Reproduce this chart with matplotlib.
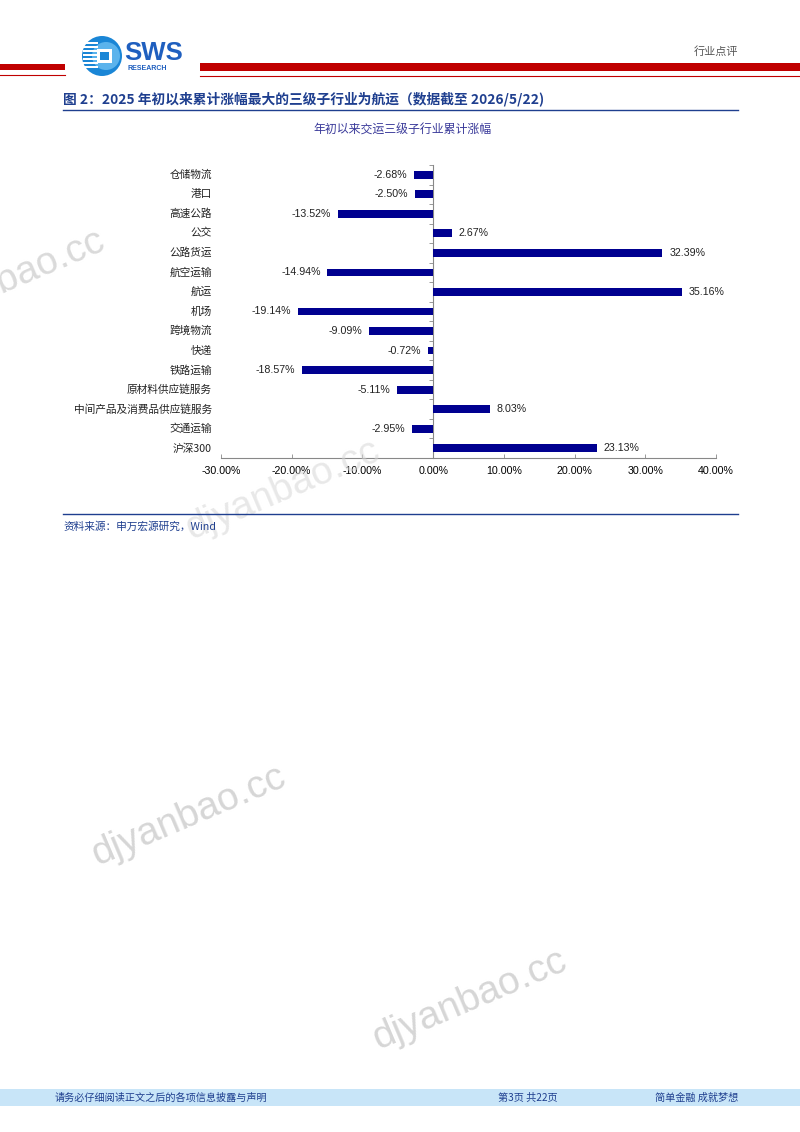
import matplotlib
matplotlib.use("Agg")
import matplotlib.pyplot as plt
from matplotlib.patches import Rectangle, Ellipse
from matplotlib.lines import Line2D
from matplotlib.transforms import blended_transform_factory

plt.rcParams['font.family'] = ['Noto Sans CJK SC', 'DejaVu Sans']

categories = ["仓储物流", "港口", "高速公路", "公交", "公路货运", "航空运输", "航运",
              "机场", "跨境物流", "快递", "铁路运输", "原材料供应链服务",
              "中间产品及消费品供应链服务", "交通运输", "沪深300"]
values = [-2.68, -2.50, -13.52, 2.67, 32.39, -14.94, 35.16,
          -19.14, -9.09, -0.72, -18.57, -5.11, 8.03, -2.95, 23.13]
xticks = [-30, -20, -10, 0, 10, 20, 30, 40]

W, H = 800, 1132
fig = plt.figure(figsize=(W / 100, H / 100), dpi=100)


def P(x, y):
    return (x / W, 1 - y / H)


NAVY = '#1f3f8f'
BAR = '#000090'
RED = '#c00000'

# ---------- watermarks ----------
for (cx, cy, a) in [(8, 280, 0.9), (283, 490, 0.55), (189, 816, 1.0), (470, 1000, 1.0)]:
    fig.text(*P(cx, cy), "djyanbao.cc", fontsize=28, rotation=23, color='#d6d6d6',
             alpha=a, ha='center', va='center', family=['Liberation Sans'], zorder=0)

# ---------- header ----------
fig.add_artist(Rectangle(P(0, 70), 65 / W, 6 / H, transform=fig.transFigure, color=RED, lw=0))
fig.add_artist(Rectangle(P(200, 71), 600 / W, 8 / H, transform=fig.transFigure, color=RED, lw=0))
fig.add_artist(Line2D([0, 65 / W], [1 - 75 / H] * 2, transform=fig.transFigure, color=RED, lw=0.8))
fig.add_artist(Line2D([200 / W, 1], [1 - 76 / H] * 2, transform=fig.transFigure, color=RED, lw=0.8))

# logo
cx, cy, r = 102, 56, 20
fig.add_artist(Ellipse(P(cx, cy), 2 * r / W, 2 * r / H, transform=fig.transFigure,
                       color='#1a86d6', lw=0))
fig.add_artist(Ellipse(P(cx + 4, cy), 28 / W, 28 / H, transform=fig.transFigure,
                       color='#5bb3ec', lw=0))
for k in range(7):
    yy = 43 + k * 4
    fig.add_artist(Rectangle(P(83, yy + 1), 15 / W, 1.6 / H, transform=fig.transFigure,
                             color='white', lw=0))
fig.add_artist(Rectangle(P(97, 63), 15 / W, 14 / H, transform=fig.transFigure, color='white', lw=0))
fig.add_artist(Rectangle(P(100, 60), 9 / W, 8 / H, transform=fig.transFigure, color='#1a86d6', lw=0))
fig.text(*P(124, 60), "SWS", fontsize=18.5, fontweight='bold', color='#1f5fbf',
         family=['Liberation Sans'], ha='left', va='baseline')
fig.text(*P(127, 70), "RESEARCH", fontsize=5, fontweight='bold', color='#1f5fbf',
         family=['Liberation Sans'], ha='left', va='baseline')
fig.text(*P(738, 52), "行业点评", fontsize=8, color='#555555', ha='right', va='center')

# ---------- figure title ----------
fig.text(*P(63, 99), "图 2：2025 年初以来累计涨幅最大的三级子行业为航运（数据截至 2026/5/22)",
         fontsize=9.9, fontweight='bold', color=NAVY, ha='left', va='center')
fig.add_artist(Line2D([63 / W, 738 / W], [1 - 110 / H] * 2, transform=fig.transFigure,
                      color=NAVY, lw=1.0))
fig.text(*P(403, 130), "年初以来交运三级子行业累计涨幅", fontsize=8.6, color='#3a3a9a',
         ha='center', va='center')

# ---------- chart ----------
ax = fig.add_axes([221 / W, 1 - 458 / H, 495 / W, 293 / H])
ax.set_facecolor('none')
ypos = list(range(len(categories)))
ax.barh(ypos, values, height=0.4, color=BAR, zorder=3)
ax.set_xlim(-30, 40)
ax.set_ylim(len(categories) - 0.5, -0.5)

for sp in ['top', 'right']:
    ax.spines[sp].set_visible(False)
ax.spines['left'].set_position(('data', 0))
ax.spines['left'].set_color('#888888')
ax.spines['left'].set_linewidth(0.8)
ax.spines['bottom'].set_color('#888888')
ax.spines['bottom'].set_linewidth(0.8)

ax.set_yticks([i - 0.5 for i in range(len(categories) + 1)])
ax.set_yticklabels([])
ax.tick_params(axis='y', direction='out', length=3, width=0.6, color='#888888')
ax.set_xticks(xticks)
ax.set_xticklabels([f"{t:.2f}%" for t in xticks], fontsize=7.7, family=['Liberation Sans'])
ax.tick_params(axis='x', direction='in', length=3, width=0.6, color='#888888', pad=6)

tr = blended_transform_factory(ax.transAxes, ax.transData)
for i, c in enumerate(categories):
    ax.text(-0.018, i, c, transform=tr, ha='right', va='center', fontsize=7.7, color='#222222')

for i, v in enumerate(values):
    off = 5 if v >= 0 else -5
    ax.annotate(f"{v:.2f}%", (v, i), xytext=(off, 0), textcoords='offset points',
                ha='left' if v >= 0 else 'right', va='center', fontsize=7.7,
                family=['Liberation Sans'], color='#222222')

# ---------- source ----------
fig.add_artist(Line2D([63 / W, 738 / W], [1 - 514 / H] * 2, transform=fig.transFigure,
                      color=NAVY, lw=1.0))
fig.text(*P(63, 527), "资料来源：申万宏源研究，Wind", fontsize=7.7, color=NAVY,
         ha='left', va='center')

# ---------- footer ----------
fig.add_artist(Rectangle(P(0, 1106), 1, 17 / H, transform=fig.transFigure,
                         color='#c8e5f8', lw=0))
fig.text(*P(55, 1098), "请务必仔细阅读正文之后的各项信息披露与声明", fontsize=7.3,
         color=NAVY, ha='left', va='center')
fig.text(*P(528, 1098), "第3页 共22页", fontsize=7.3, color=NAVY, ha='center', va='center')
fig.text(*P(738, 1098), "简单金融 成就梦想", fontsize=7.3, color=NAVY, ha='right', va='center')

fig.savefig("out.png", dpi=100)
